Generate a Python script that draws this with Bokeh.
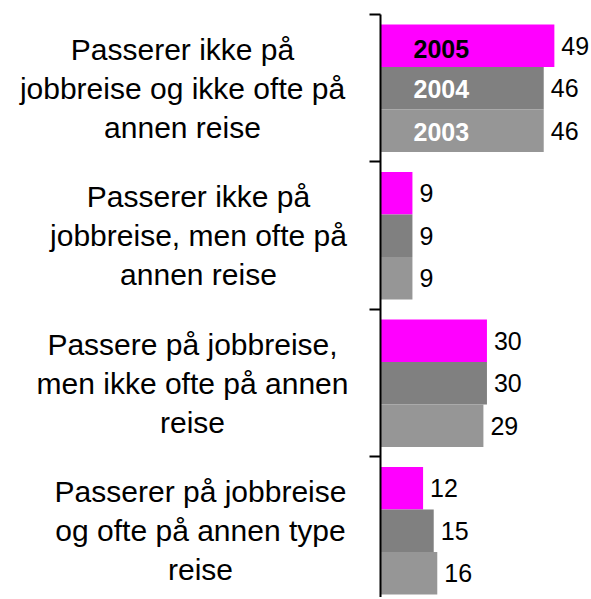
from bokeh.plotting import figure
from bokeh.layouts import row
from bokeh.models import ColumnDataSource, Range1d, FixedTicker, LinearAxis
from bokeh.transform import dodge
from bokeh.core.properties import value
from bokeh.embed import file_html
from bokeh.resources import INLINE

categories = [
    "Passerer ikke på\njobbreise og ikke ofte på\nannen reise",
    "Passerer ikke på\njobbreise, men ofte på\nannen reise",
    "Passere på jobbreise,\nmen ikke ofte på annen\nreise",
    "Passerer på jobbreise\nog ofte på annen type\nreise",
]
years = ["2005", "2004", "2003"]
v2005 = [49, 9, 30, 12]
v2004 = [46, 9, 30, 15]
v2003 = [46, 9, 29, 16]

colors = ["#FF00FF", "#808080", "#969696"]
year_label_colors = ["#000000", "#FFFFFF", "#FFFFFF"]
series = [v2005, v2004, v2003]

FONT = "Liberation Sans"
bar_h = 0.288
offsets = [-bar_h, 0.0, bar_h]
H = 597
LEFT_W = 360
MAIN_W = 589 - LEFT_W

yr = Range1d(3.953, 0)

p = figure(width=MAIN_W, height=H, output_backend="svg", toolbar_location=None,
           x_range=Range1d(0, 58.9), y_range=yr,
           x_axis_location=None, y_axis_location=None,
           min_border_left=380 - LEFT_W, min_border_right=0, min_border_top=14, min_border_bottom=0)
p.outline_line_color = None
p.xgrid.visible = False
p.ygrid.visible = False
p.background_fill_color = "white"
p.border_fill_color = "white"

ycenters = [i + 0.5 for i in range(len(categories))]

for k, (yname, vals) in enumerate(zip(years, series)):
    src = ColumnDataSource(dict(y=ycenters, v=vals, lab=[str(x) for x in vals]))
    p.hbar(y=dodge("y", offsets[k], range=yr), right="v", left=0, height=bar_h,
           source=src, fill_color=colors[k], line_color=None)
    p.text(x="v", y=dodge("y", offsets[k], range=yr), text="lab", source=src,
           x_offset=7, text_font=value(FONT), text_font_size="25px", text_baseline="middle",
           text_align="left", text_color="#000000")
    ysrc = ColumnDataSource(dict(x=[0], y=[ycenters[0]], t=[yname]))
    p.text(x="x", y=dodge("y", offsets[k], range=yr), text="t", source=ysrc,
           x_offset=33, y_offset=3 if k == 0 else 1, text_font=value(FONT), text_font_size="25px",
           text_font_style="bold", text_baseline="middle", text_align="left",
           text_color=year_label_colors[k])

ax = LinearAxis(ticker=FixedTicker(ticks=[0, 1, 2, 3, 4]))
ax.axis_line_color = "black"
ax.axis_line_width = 2
ax.major_tick_line_color = "black"
ax.major_tick_line_width = 2
ax.major_tick_out = 11
ax.major_tick_in = 0
ax.minor_tick_line_color = None
ax.major_label_text_font_size = "0px"
ax.major_label_text_color = None
ax.major_label_standoff = 0
p.add_layout(ax, "left")

# category labels in a companion figure sharing the y range
q = figure(width=LEFT_W, height=H, output_backend="svg", toolbar_location=None,
           x_range=Range1d(0, LEFT_W), y_range=yr,
           x_axis_location=None, y_axis_location=None,
           min_border_left=0, min_border_right=0, min_border_top=14, min_border_bottom=0)
q.outline_line_color = None
q.xgrid.visible = False
q.ygrid.visible = False
q.border_fill_color = "white"
q.background_fill_color = "white"
label_cx = [182, 198, 192, 200]
csrc = ColumnDataSource(dict(x=label_cx, y=ycenters, t=categories))
q.text(x="x", y="y", text="t", source=csrc, text_font=value(FONT), text_font_size="30px",
       text_align="center", text_baseline="middle", text_line_height=1.18,
       text_color="#000000")

layout = row(q, p, spacing=0)
open("out.html", "w").write(file_html(layout, INLINE))
